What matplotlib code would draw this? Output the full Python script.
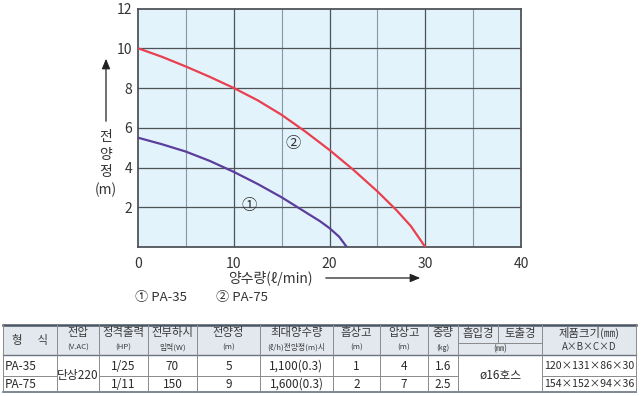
import matplotlib
matplotlib.use('Agg')
import matplotlib.pyplot as plt

plt.rcParams['font.family'] = ['Noto Sans CJK KR', 'DejaVu Sans']

# ---- chart data ----
pa75_flow = [0, 2.5, 5, 7.5, 10, 12.5, 15, 17.5, 20, 22.5, 25, 27, 28.5, 30]
pa75_head = [10, 9.57, 9.08, 8.56, 8.0, 7.38, 6.65, 5.8, 4.88, 3.88, 2.8, 1.85, 1.05, 0]
pa35_flow = [0, 2.5, 5, 7.5, 10, 12.5, 15, 17, 19, 20, 21, 21.8]
pa35_head = [5.5, 5.17, 4.8, 4.33, 3.78, 3.17, 2.5, 1.9, 1.3, 0.95, 0.52, 0]
x_ticks = [0, 10, 20, 30, 40]
y_ticks = [2, 4, 6, 8, 10, 12]
x_minor = [5, 15, 25, 35]
series_labels = ['①', '②']
legend_labels = ['① PA-35', '② PA-75']

# ---- table data ----
hdr_main = ['형      식', '전압', '정격출력', '전부하시', '전양정', '최대양수량', '흡상고', '압상고', '중량', None, None, '제품크기(㎜)']
hdr_sub = [None, '(V.AC)', '(HP)', '입력(W)', '(m)', '(ℓ/h)전양정(m)시', '(m)', '(m)', '(㎏)', None, None, 'A×B×C×D']
hdr_pipe = ['흡입경', '토출경', '(㎜)']
models = ['PA-35', 'PA-75']
voltage = '단상220'
power_hp = ['1/25', '1/11']
input_w = ['70', '150']
total_head = ['5', '9']
max_flow = ['1,100(0.3)', '1,600(0.3)']
suction = ['1', '2']
discharge = ['4', '7']
weight = ['1.6', '2.5']
pipe = 'ø16호스'
size = ['120×131×86×30', '154×152×94×36']

W, H = 643, 396
fig = plt.figure(figsize=(W / 100, H / 100), dpi=100)

# ---- chart axes ----
L, R, T, B = 138, 521, 8.5, 247
ax = fig.add_axes([L / W, 1 - B / H, (R - L) / W, (B - T) / H])
ax.set_facecolor('#e2f3fb')
ax.set_xlim(0, 40)
ax.set_ylim(0, 12)
for v in x_minor:
    ax.axvline(v, color='#8a96a3', lw=0.8, zorder=1)
for v in x_ticks[1:-1]:
    ax.axvline(v, color='#4f5358', lw=0.9, zorder=1)
for v in y_ticks[:-1]:
    ax.axhline(v, color='#4f5358', lw=0.9, zorder=1)
ax.plot(pa75_flow, pa75_head, color='#e8404f', lw=1.6, zorder=3, solid_joinstyle='round')
ax.plot(pa35_flow, pa35_head, color='#5b3d9c', lw=1.6, zorder=3, solid_joinstyle='round')
ax.text(16.2, 5.2, series_labels[1], fontsize=11, ha='center', va='center', color='#333333')
ax.text(11.6, 2.1, series_labels[0], fontsize=11, ha='center', va='center', color='#333333')
ax.set_xticks(x_ticks)
ax.set_yticks(y_ticks)
ax.tick_params(length=0, labelsize=10, colors='#333333')
ax.tick_params(axis='x', pad=7)
ax.tick_params(axis='y', pad=4)
for s in ax.spines.values():
    s.set_color('#505458')
    s.set_linewidth(1.3)

# ---- overlay for labels and table (pixel coordinates) ----
ov = fig.add_axes([0, 0, 1, 1], facecolor='none')
ov.set_xlim(0, W)
ov.set_ylim(H, 0)
ov.axis('off')

txt = '#333333'
ov.annotate('', xy=(106, 56), xytext=(106, 124),
            arrowprops=dict(arrowstyle='-|>,head_width=0.25,head_length=0.6', color='#222222', lw=0.9))
for s, yy in zip(['전', '양', '정', '(m)'], [137, 155, 172, 190]):
    ov.text(106, yy, s, fontsize=10, ha='center', va='center', color=txt)
ov.text(270, 278, '양수량(ℓ/min)', fontsize=10, ha='center', va='center', color=txt)
ov.annotate('', xy=(423, 278), xytext=(323, 278),
            arrowprops=dict(arrowstyle='-|>,head_width=0.25,head_length=0.6', color='#222222', lw=0.9))
ov.text(135, 298, legend_labels[0], fontsize=9.5, ha='left', va='center', color=txt)
ov.text(216, 298, legend_labels[1], fontsize=9.5, ha='left', va='center', color=txt)

# table layout
cols = [3, 57, 99, 148, 197, 260, 333, 380, 428, 458, 498, 542, 636]
ytop, yhdr, ymid, ybot = 325, 355, 376, 392
lc = '#8a8a8a'
ov.add_patch(plt.Rectangle((cols[0], ytop), cols[-1] - cols[0], yhdr - ytop,
                           facecolor='#e3e8ee', edgecolor='none', zorder=0))
ov.plot([cols[0], cols[-1]], [ytop, ytop], color='#4a5563', lw=1.8)
ov.plot([cols[0], cols[-1]], [yhdr, yhdr], color='#6a7380', lw=1.0)
ov.plot([cols[0], cols[-1]], [ybot, ybot], color='#6a7380', lw=1.2)
ov.plot([cols[0], cols[1]], [ymid, ymid], color=lc, lw=0.7)
ov.plot([cols[2], cols[9]], [ymid, ymid], color=lc, lw=0.7)
ov.plot([cols[11], cols[12]], [ymid, ymid], color=lc, lw=0.7)
ov.plot([cols[9], cols[11]], [343, 343], color=lc, lw=0.7)
for i, c in enumerate(cols):
    if i == 10:
        ov.plot([c, c], [ytop, 343], color=lc, lw=0.7)
    else:
        ov.plot([c, c], [ytop, ybot], color=lc, lw=0.7)

hc = '#3a3a3a'
hfs = 8.2
for i in range(len(cols) - 1):
    cx = (cols[i] + cols[i + 1]) / 2
    m, s = hdr_main[i], hdr_sub[i]
    if m is None:
        continue
    if s is None:
        ov.text(cx, 340, m, fontsize=hfs, ha='center', va='center', color=hc)
    else:
        ov.text(cx, 332.5, m, fontsize=hfs, ha='center', va='center', color=hc)
        ov.text(cx, 347.5, s, fontsize=5.6 if i != 11 else 7, ha='center', va='center', color=hc)
ov.text((cols[9] + cols[10]) / 2, 333.5, hdr_pipe[0], fontsize=hfs, ha='center', va='center', color=hc)
ov.text((cols[10] + cols[11]) / 2, 333.5, hdr_pipe[1], fontsize=hfs, ha='center', va='center', color=hc)
ov.text((cols[9] + cols[11]) / 2, 349, hdr_pipe[2], fontsize=6, ha='center', va='center', color=hc)

row_y = [366, 384]
dc = '#2a2a2a'
dfs = 8.5
for r in range(2):
    y = row_y[r]
    ov.text(cols[0] + 2, y, models[r], fontsize=dfs, ha='left', va='center', color=dc)
    vals = [power_hp[r], input_w[r], total_head[r], max_flow[r], suction[r], discharge[r], weight[r]]
    for k, v in enumerate(vals):
        cx = (cols[2 + k] + cols[3 + k]) / 2
        ov.text(cx, y, v, fontsize=dfs, ha='center', va='center', color=dc)
    ov.text((cols[11] + cols[12]) / 2, y, size[r], fontsize=7.6, ha='center', va='center', color=dc)
ov.text((cols[1] + cols[2]) / 2, 375, voltage, fontsize=dfs, ha='center', va='center', color=dc)
ov.text((cols[9] + cols[11]) / 2, 375, pipe, fontsize=dfs, ha='center', va='center', color=dc)

fig.savefig('out.png', dpi=100)
